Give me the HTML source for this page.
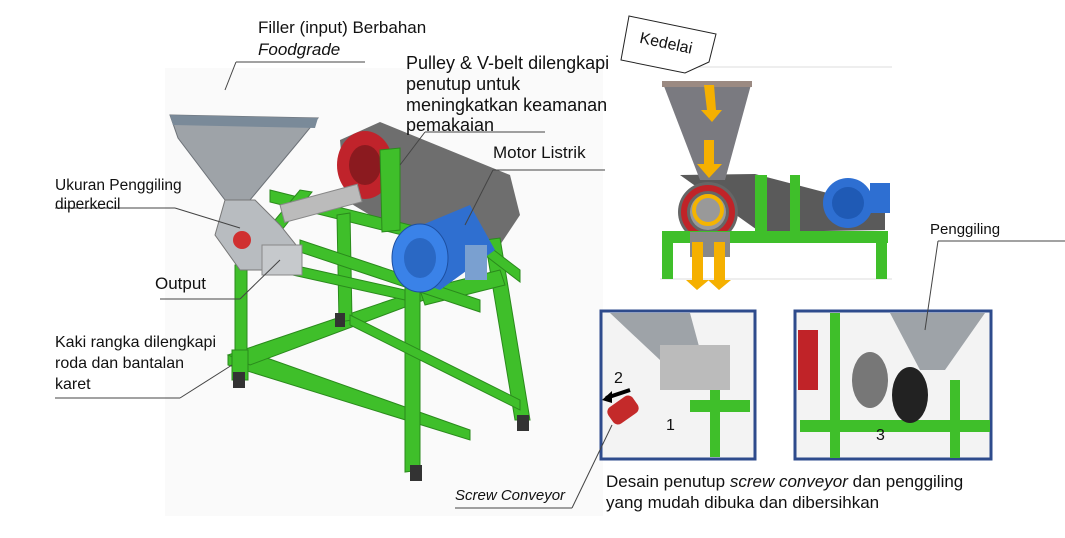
<!DOCTYPE html>
<html><head><meta charset="utf-8"><style>
html,body{margin:0;padding:0;background:#fff;width:1065px;height:538px;overflow:hidden}
svg{display:block}
text{font-family:"Liberation Sans",Arial,sans-serif;fill:#111}
</style></head><body>
<svg width="1065" height="538" viewBox="0 0 1065 538" xmlns="http://www.w3.org/2000/svg">
<rect x="165" y="68" width="438" height="448" fill="#fafafa"/>
<polygon points="340,140 380,122 510,175 520,215 500,245 420,245 345,200" fill="#6e6e6e"/>
<ellipse cx="365" cy="165" rx="28" ry="34" fill="#c0232b"/>
<ellipse cx="365" cy="165" rx="16" ry="20" fill="#8b1a1f"/>
<g fill="#3fbf2a" stroke="#2a8a1c" stroke-width="1">
<polygon points="270,190 470,240 470,252 270,202"/>
<polygon points="250,250 300,190 312,192 262,255"/>
<polygon points="228,355 250,352 470,430 470,440 228,365"/>
<polygon points="228,355 420,290 440,294 250,365"/>
<polygon points="235,265 247,262 247,378 235,378"/>
<polygon points="232,350 248,350 248,380 232,380"/>
<polygon points="337,215 350,213 352,320 339,322"/>
<polygon points="405,275 420,273 420,470 405,472"/>
<polygon points="485,240 500,238 530,420 515,420"/>
<polygon points="420,290 500,270 505,285 425,305"/>
<polygon points="270,260 405,290 405,300 270,270"/>
<polygon points="380,150 400,148 400,230 382,232"/>
<polygon points="465,228 520,270 520,282 465,240"/>
<polygon points="300,240 480,300 480,312 300,252"/>
<polygon points="350,315 520,400 520,410 350,325"/>
</g>
<g fill="#333"><rect x="233" y="372" width="12" height="16"/><rect x="410" y="465" width="12" height="16"/><rect x="517" y="415" width="12" height="16"/><rect x="335" y="313" width="10" height="14"/></g>
<polygon points="170,115 318,118 300,140 250,200 225,200 178,138" fill="#9ea3a8" stroke="#6d7278"/>
<polygon points="170,115 318,118 315,128 173,125" fill="#7a8a99"/>
<polygon points="225,200 255,200 280,225 300,250 280,270 240,270 215,235" fill="#b8bcc0" stroke="#777"/>
<rect x="280" y="205" width="80" height="18" fill="#bbb" stroke="#888" transform="rotate(-15 280 205)"/>
<rect x="262" y="245" width="40" height="30" fill="#c6c9cc" stroke="#888"/>
<circle cx="242" cy="240" r="9" fill="#d03030"/>
<polygon points="410,230 470,205 495,250 440,290 400,275" fill="#2f6fd0"/>
<ellipse cx="420" cy="258" rx="28" ry="34" fill="#3a82e8" stroke="#1d4fa0"/>
<ellipse cx="420" cy="258" rx="16" ry="20" fill="#2a68c4"/>
<rect x="465" y="245" width="22" height="35" fill="#7aa0d0"/>

<rect x="660" y="67" width="232" height="213" fill="#fff"/>
<line x1="660" y1="67" x2="892" y2="67" stroke="#ddd"/>
<line x1="660" y1="279" x2="892" y2="279" stroke="#ddd"/>
<polygon points="680,175 755,174 885,208 885,230 760,232" fill="#5a5a5a"/>
<circle cx="708" cy="212" r="30" fill="#666"/>
<circle cx="708" cy="212" r="24" fill="none" stroke="#c02328" stroke-width="6"/>
<circle cx="708" cy="212" r="18" fill="#999"/>
<polygon points="662,81 752,81 725,180 700,180" fill="#7a7a80"/>
<rect x="662" y="81" width="90" height="6" fill="#9b8a82"/>
<circle cx="708" cy="210" r="14" fill="none" stroke="#f5b400" stroke-width="4"/>
<g fill="#3fbf2a"><rect x="662" y="231" width="226" height="12"/><rect x="662" y="231" width="11" height="48"/><rect x="876" y="231" width="11" height="48"/><rect x="755" y="175" width="12" height="58"/><rect x="790" y="175" width="10" height="58"/></g>
<rect x="690" y="232" width="40" height="25" fill="#888"/>
<circle cx="848" cy="203" r="25" fill="#2e6fd2"/><circle cx="848" cy="203" r="16" fill="#1f5ab5"/>
<rect x="870" y="183" width="20" height="30" fill="#2e6fd2"/>
<g fill="#f5b000">
<polygon points="704,85 714,85 716,110 722,110 712,122 701,110 707,110"/>
<polygon points="704,140 714,140 714,164 722,164 709,178 697,164 704,164"/>
<polygon points="692,242 703,242 703,280 709,280 697,290 686,280 692,280"/>
<polygon points="714,242 725,242 725,280 731,280 719,290 708,280 714,280"/>
</g>
<polygon points="629,16 716,34 709,62 685,73 621,60" fill="#fff" stroke="#222" stroke-width="1"/>
<text x="640" y="48" font-size="16" transform="rotate(12 665 40)">Kedelai</text>

<rect x="601" y="311" width="154" height="148" fill="#f3f3f3" stroke="#2e4b8c" stroke-width="3"/>
<polygon points="610,313 690,313 700,350 660,360" fill="#9ea3a8"/>
<rect x="660" y="345" width="70" height="45" fill="#bbb"/>
<g fill="#3fbf2a"><rect x="690" y="400" width="60" height="12"/><rect x="710" y="390" width="10" height="67"/></g>
<rect x="608" y="400" width="30" height="20" rx="6" fill="#c42a2a" transform="rotate(-35 623 410)"/>
<line x1="630" y1="390" x2="606" y2="398" stroke="#000" stroke-width="4"/>
<polygon points="602,400 612,391 612,403" fill="#000"/>
<text x="614" y="383" font-size="16">2</text>
<text x="666" y="430" font-size="16">1</text>
<rect x="795" y="311" width="196" height="148" fill="#f3f3f3" stroke="#2e4b8c" stroke-width="3"/>
<polygon points="890,313 985,313 945,370 920,370" fill="#9ea3a8"/>
<rect x="798" y="330" width="20" height="60" fill="#c02328"/>
<g fill="#3fbf2a"><rect x="830" y="313" width="10" height="145"/><rect x="800" y="420" width="190" height="12"/><rect x="950" y="380" width="10" height="78"/></g>
<ellipse cx="870" cy="380" rx="18" ry="28" fill="#777"/>
<ellipse cx="910" cy="395" rx="18" ry="28" fill="#222"/>
<text x="876" y="440" font-size="16">3</text>

<g stroke="#444" stroke-width="1" fill="none">
<line x1="236" y1="62" x2="365" y2="62"/>
<line x1="225" y1="90" x2="236" y2="62"/>
<line x1="545" y1="132" x2="425" y2="132"/><line x1="425" y1="132" x2="400" y2="165"/>
<line x1="605" y1="170" x2="493" y2="170"/><line x1="493" y1="170" x2="465" y2="225"/>
<line x1="55" y1="208" x2="175" y2="208"/><line x1="175" y1="208" x2="240" y2="228"/>
<line x1="160" y1="299" x2="240" y2="299"/><line x1="240" y1="299" x2="280" y2="260"/>
<line x1="55" y1="398" x2="180" y2="398"/><line x1="180" y1="398" x2="232" y2="365"/>
<line x1="455" y1="508" x2="572" y2="508"/><line x1="572" y1="508" x2="612" y2="425"/>
<line x1="938" y1="241" x2="1065" y2="241"/><line x1="938" y1="241" x2="925" y2="330"/>
</g>

<text x="258" y="33" font-size="17">Filler (input) Berbahan</text>
<text x="258" y="55" font-size="17" font-style="italic">Foodgrade</text>
<g font-size="18"><text x="406" y="69">Pulley &amp; V-belt dilengkapi</text><text x="406" y="90">penutup untuk</text><text x="406" y="111">meningkatkan keamanan</text><text x="406" y="131">pemakaian</text></g>
<text x="493" y="158" font-size="17">Motor Listrik</text>
<text x="55" y="190" font-size="15.5">Ukuran Penggiling</text>
<text x="55" y="209" font-size="15.5">diperkecil</text>
<text x="155" y="289" font-size="17">Output</text>
<g font-size="16"><text x="55" y="347">Kaki rangka dilengkapi</text><text x="55" y="368">roda dan bantalan</text><text x="55" y="389">karet</text></g>
<text x="455" y="500" font-size="15" font-style="italic">Screw Conveyor</text>
<text x="606" y="487" font-size="17">Desain penutup <tspan font-style="italic">screw conveyor</tspan> dan penggiling</text>
<text x="606" y="508" font-size="17">yang mudah dibuka dan dibersihkan</text>
<text x="930" y="234" font-size="15">Penggiling</text>
</svg>
</body></html>
